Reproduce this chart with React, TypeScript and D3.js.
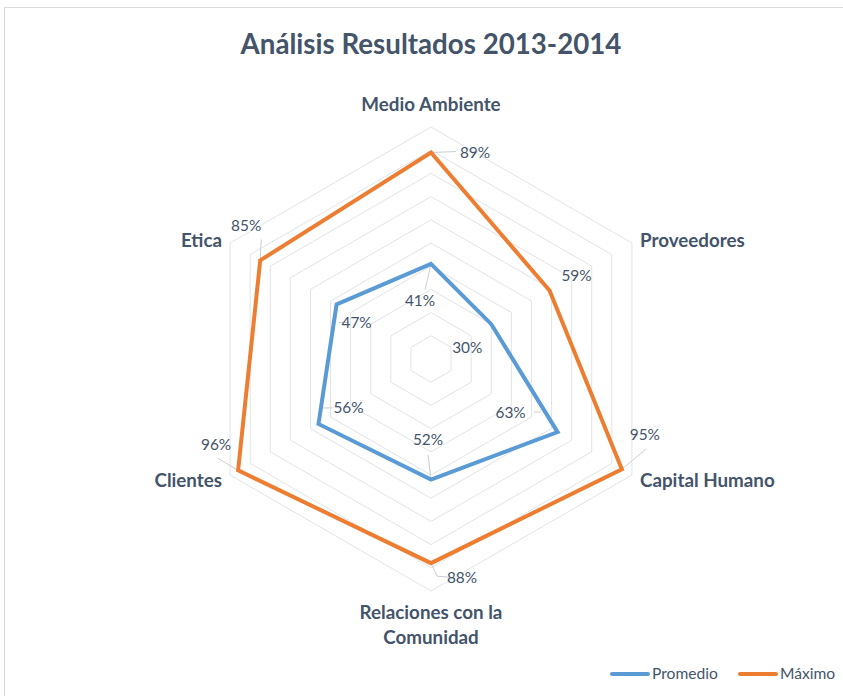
import React from "react";
import * as d3 from "d3";

const categories = ["Medio Ambiente", "Proveedores", "Capital Humano", "Relaciones con la|Comunidad", "Clientes", "Etica"];
const promedio = [0.41, 0.30, 0.63, 0.52, 0.56, 0.47];
const maximo = [0.89, 0.59, 0.95, 0.88, 0.96, 0.85];
const ringTicks = [0.1, 0.2, 0.3, 0.4, 0.5, 0.6, 0.7, 0.8, 0.9, 1.0];
const seriesNames = ["Promedio", "Máximo"];
const title = "Análisis Resultados 2013-2014";

// layout (offsets of labels from the point, px)
const promLabelOff: [number, number][] = [[-11, 37], [-24, 23], [-47, -19], [-3, -40], [30, -16], [20, 18]];
const maxLabelOff: [number, number][] = [[44, 0], [27, -15], [23, -35], [31, 14], [-22, -26], [-14, -35]];
const promLeader: ([number, number][] | null)[] = [[[0, 0], [-6, 26]], null, [[-17, -20], [-24, -20]], [[0, 0], [-3, -25]], [[2, -16], [14, -16]], [[2, 18], [13, 18]]];
const maxLeader: ([number, number][] | null)[] = [[[0, 0], [25, -1]], null, [[0, 0], [24, -20]], [[0, 0], [6, 13], [18, 14]], [[0, 0], [-20, -12]], [[0, 0], [1, -21]]];
const catLabelPos: { dx: number; dy: number; anchor: string }[] = [
  { dx: 0, dy: -255, anchor: "middle" },
  { dx: 209, dy: -119, anchor: "start" },
  { dx: 209, dy: 121, anchor: "start" },
  { dx: 0, dy: 253, anchor: "middle" },
  { dx: -209, dy: 121, anchor: "end" },
  { dx: -209, dy: -119, anchor: "end" },
];
const legendX = [610, 738];

const colors = ["#5B9BD5", "#ED7D31"];
const textColor = "#44546A";
const font = "Lato, 'Open Sans', sans-serif";

export default function App() {
  const cx = 431, cy = 359;
  const r = d3.scaleLinear().domain([0, 1]).range([0, 232]);
  const angle = (i: number) => (i * 2 * Math.PI) / categories.length;
  const pt = (i: number, v: number): [number, number] => [cx + r(v) * Math.sin(angle(i)), cy - r(v) * Math.cos(angle(i))];
  const line = d3.line<[number, number]>().curve(d3.curveLinearClosed);

  const series = [promedio, maximo];
  const offs = [promLabelOff, maxLabelOff];
  const leaders = [promLeader, maxLeader];

  return (
    <svg width={843} height={696} style={{ position: "absolute", left: 0, top: 0, background: "#fff" }} fontFamily={font}>
      <rect x={4.5} y={7.5} width={850} height={700} fill="#fff" stroke="#d9d9d9" strokeWidth={1} />
      <text x={431} y={54} textAnchor="middle" fontSize={27.7} fontWeight={700} fill={textColor}>{title}</text>
      {ringTicks.map((t) => (
        <path key={t} d={line(categories.map((_, i) => pt(i, t))) || ""} fill="none" stroke="#e1e3e7" strokeWidth={1} />
      ))}
      {series.map((s, si) =>
        leaders[si].map((ld, i) => {
          if (!ld) return null;
          const [px, py] = pt(i, s[i]);
          return <polyline key={`ld${si}-${i}`} points={ld.map(([a, b]) => `${px + a},${py + b}`).join(" ")} fill="none" stroke="#c9cdd4" strokeWidth={1} />;
        })
      )}
      {series.map((s, si) => (
        <path key={si} d={line(s.map((v, i) => pt(i, v))) || ""} fill="none" stroke={colors[si]} strokeWidth={4} strokeLinejoin="miter" />
      ))}
      {series.map((s, si) =>
        s.map((v, i) => {
          const [px, py] = pt(i, v);
          const [ox, oy] = offs[si][i];
          return (
            <text key={`l${si}-${i}`} x={px + ox} y={py + oy} dy="0.35em" textAnchor="middle" fontSize={15.4} fill={textColor}>
              {d3.format(".0%")(v)}
            </text>
          );
        })
      )}
      {categories.map((c, i) => {
        const p = catLabelPos[i];
        const lines = c.split("|");
        return (
          <text key={c} x={cx + p.dx} y={cy + p.dy} textAnchor={p.anchor as any} fontSize={18.8} fontWeight={700} fill={textColor}>
            {lines.map((l, k) => (
              <tspan key={k} x={cx + p.dx} dy={k === 0 ? "0.35em" : 25}>{l}</tspan>
            ))}
          </text>
        );
      })}
      {seriesNames.map((n, si) => {
        const x0 = legendX[si];
        return (
          <g key={n}>
            <line x1={x0 + 2} x2={x0 + 38} y1={674} y2={674} stroke={colors[si]} strokeWidth={4} strokeLinecap="round" />
            <text x={x0 + 42} y={674} dy="0.35em" fontSize={15.6} fill={textColor}>{n}</text>
          </g>
        );
      })}
    </svg>
  );
}
